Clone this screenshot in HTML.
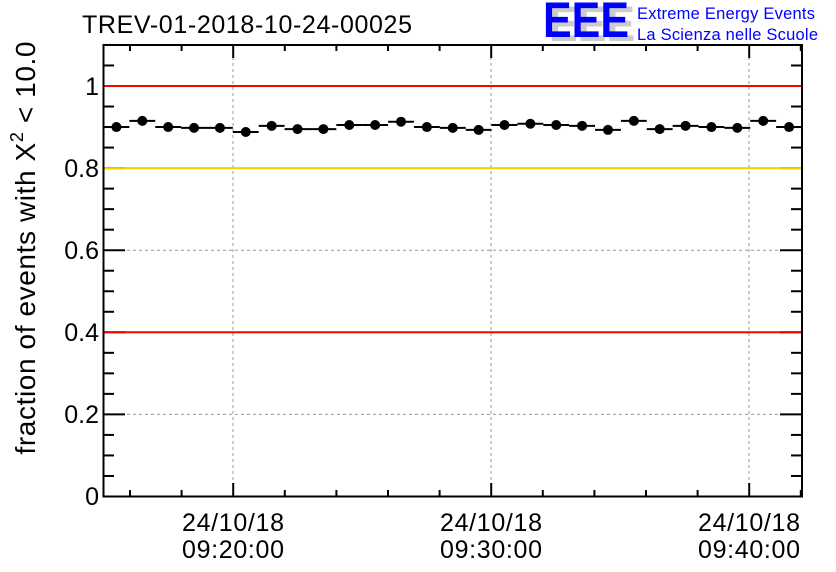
<!DOCTYPE html>
<html><head><meta charset="utf-8"><style>body{margin:0;background:#fff}svg{display:block}</style></head><body>
<svg width="836" height="572" xmlns="http://www.w3.org/2000/svg" font-family="Liberation Sans, sans-serif">
<rect width="836" height="572" fill="#fff"/>
<g stroke="#999" stroke-width="1" stroke-dasharray="3,3">
<line x1="233" y1="45" x2="233" y2="496"/><line x1="491" y1="45" x2="491" y2="496"/><line x1="749" y1="45" x2="749" y2="496"/>
<line x1="103" y1="414.4" x2="802" y2="414.4"/><line x1="103" y1="250.2" x2="802" y2="250.2"/><line x1="103" y1="332.3" x2="802" y2="332.3"/>
</g>
<g id="ticks" stroke="#000" stroke-width="2"></g>
<line x1="103" y1="86" x2="802" y2="86" stroke="#f00" stroke-width="2"/>
<line x1="103" y1="332.3" x2="802" y2="332.3" stroke="#f00" stroke-width="2"/>
<line x1="103" y1="168.1" x2="802" y2="168.1" stroke="#fc0" stroke-width="2"/>
<g id="pts"></g>
<rect x="103.5" y="45" width="698.5" height="451.5" fill="none" stroke="#000" stroke-width="2"/>
<g font-size="25" text-anchor="end" fill="#000">
<text x="99" y="505">0</text><text x="99" y="423">0.2</text><text x="99" y="341">0.4</text><text x="99" y="259">0.6</text><text x="99" y="177">0.8</text><text x="99" y="95">1</text>
</g>
<g font-size="25" text-anchor="middle">
<text x="233" y="531" textLength="102">24/10/18</text><text x="233" y="558" textLength="102">09:20:00</text>
<text x="491" y="531" textLength="102">24/10/18</text><text x="491" y="558" textLength="102">09:30:00</text>
<text x="749" y="531" textLength="102">24/10/18</text><text x="749" y="558" textLength="102">09:40:00</text>
</g>
<text x="82" y="33" font-size="25" textLength="330">TREV-01-2018-10-24-00025</text>
<text transform="translate(35,248) rotate(-90)" font-size="28" text-anchor="middle" textLength="413">fraction of events with X<tspan font-size="18" dy="-12">2</tspan><tspan dy="12"> &lt; 10.0</tspan></text>
<g font-size="50" font-weight="bold">
<text x="549" y="41" fill="#ccc" textLength="86" lengthAdjust="spacingAndGlyphs">EEE</text><text x="543" y="37" fill="#00f" textLength="86" lengthAdjust="spacingAndGlyphs">EEE</text>
</g>
<g font-size="16.5" fill="#00f"><text x="637" y="19" textLength="178">Extreme Energy Events</text><text x="637" y="40" textLength="181">La Scienza nelle Scuole</text></g>
</svg>
<script>
var v=[0.90,0.915,0.90,0.898,0.898,0.888,0.903,0.895,0.895,0.905,0.905,0.913,0.90,0.898,0.893,0.905,0.908,0.905,0.903,0.893,0.915,0.895,0.903,0.90,0.898,0.915,0.90];
var s='',w=698.5/27;
v.forEach(function(a,i){var x0=103.5+i*w,y=496.5-a*410.5;s+='<line x1="'+x0+'" x2="'+(x0+w)+'" y1="'+y+'" y2="'+y+'" stroke="#000" stroke-width="2"/><circle cx="'+(x0+w/2)+'" cy="'+y+'" r="5" fill="#000"/>';});
document.getElementById('pts').innerHTML=s;
var t='';
for(var k=0;k<14;k++){var x=130+k*25.8*2;if(x>801)break;var L=(Math.abs(x-233)<3||Math.abs(x-491)<3||Math.abs(x-749)<3)?13:6;
t+='<line x1="'+x+'" x2="'+x+'" y1="496" y2="'+(496-L)+'"/><line x1="'+x+'" x2="'+x+'" y1="45" y2="'+(45+L)+'"/>';}
for(var j=0;j<=22;j++){var y=496.5-j*0.05*410.5,L=(j%4==0)?22:11;
t+='<line x1="103" x2="'+(103+L)+'" y1="'+y+'" y2="'+y+'"/><line x1="802" x2="'+(802-L)+'" y1="'+y+'" y2="'+y+'"/>';}
document.getElementById('ticks').innerHTML=t;
</script>
</body></html>
